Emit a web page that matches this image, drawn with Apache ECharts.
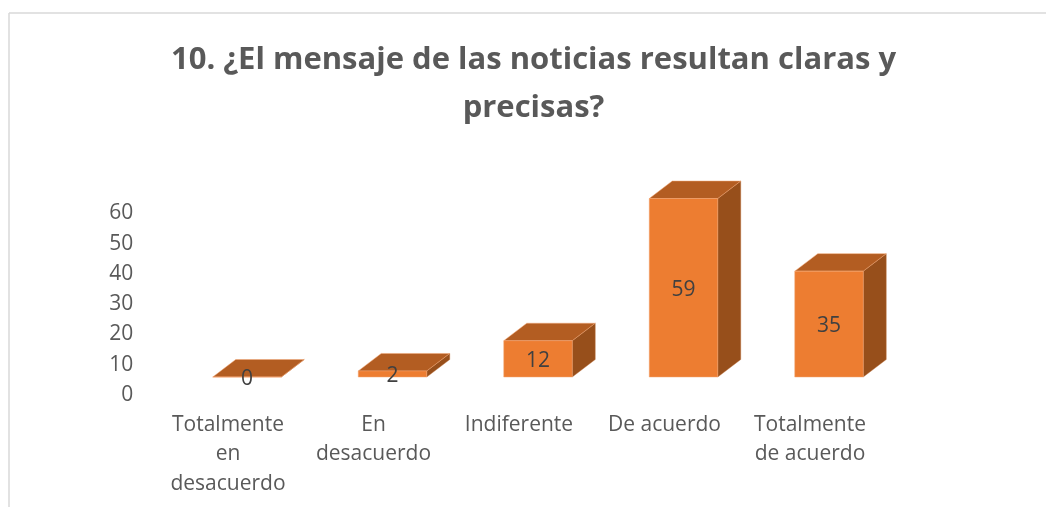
<!DOCTYPE html>
<html><head><meta charset="utf-8">
<style>html,body{margin:0;padding:0;background:#fff}#c{width:1046px;height:507px}</style>
<script src="https://cdn.jsdelivr.net/npm/echarts@6/dist/echarts.min.js"></script>
</head><body><div id="c"></div>
<script>
const categories = ['Totalmente\nen\ndesacuerdo','En\ndesacuerdo','Indiferente','De acuerdo','Totalmente\nde acuerdo'];
const values = [0,2,12,59,35];
const titleText = '10. ¿El mensaje de las noticias resultan claras y\nprecisas?';
const FONT='Open Sans';
const chart = echarts.init(document.getElementById('c'),null,{renderer:'canvas'});
const DX=23, DY=-17.5, W=68.5;
function renderItem(params,api){
  const i=api.value(0), v=api.value(1);
  const b=api.coord([i,0]), t=api.coord([i,v]);
  const x0=b[0]-W/2, x1=b[0]+W/2, y0=b[1], y1=t[1];
  const edge={stroke:'#F2A674',lineWidth:0.5};
  return {type:'group',children:[
    {type:'polygon',shape:{points:[[x1,y1],[x1+DX,y1+DY],[x1+DX,y0+DY],[x1,y0]]},style:{fill:'#974F1B',stroke:'#C0703A',lineWidth:0.4}},
    {type:'polygon',shape:{points:[[x0,y1],[x0+DX,y1+DY],[x1+DX,y1+DY],[x1,y1]]},style:{fill:'#B35D22',...edge}},
    {type:'rect',shape:{x:x0,y:y1,width:W,height:y0-y1},style:{fill:'#ED7D31',...edge}},
    {type:'text',x:b[0],y:(y0+y1)/2+2,style:{text:String(v),fill:'#404040',font:'21px "Open Sans"',align:'center',verticalAlign:'middle'}}
  ]};
}
chart.setOption({
  animation:false,
  title:{text:titleText,left:528.5,top:31,textAlign:'center',textStyle:{fontFamily:FONT,fontWeight:'bold',fontSize:31,color:'#595959',lineHeight:48}},
  graphic:[
    {type:'line',shape:{x1:9,y1:13,x2:1046,y2:13},style:{stroke:'#D9D9D9',lineWidth:1.5},silent:true},
    {type:'line',shape:{x1:9,y1:13,x2:9,y2:507},style:{stroke:'#D9D9D9',lineWidth:1.5},silent:true}
  ],
  grid:[
    {left:174.25,width:727.5,top:195.5,height:181.5},
    {left:174.25,width:727.5,top:213.5,height:181.5}
  ],
  xAxis:[
    {type:'category',gridIndex:0,data:categories,axisLine:{show:false},axisTick:{show:false},
      axisLabel:{interval:0,color:'#595959',fontFamily:FONT,fontSize:21,lineHeight:29.5,margin:33,padding:[0,38,0,0]}},
    {type:'category',gridIndex:1,data:categories,show:false}
  ],
  yAxis:[
    {type:'value',gridIndex:0,min:0,max:60,interval:10,show:false},
    {type:'value',gridIndex:1,min:0,max:60,interval:10,splitLine:{show:false},axisLine:{show:false},axisTick:{show:false},
      axisLabel:{color:'#595959',fontFamily:FONT,fontSize:21,margin:41,showMinLabel:true,showMaxLabel:true}}
  ],
  series:[{type:'custom',xAxisIndex:0,yAxisIndex:0,renderItem,encode:{x:0,y:1},data:values.map((v,i)=>[i,v]),clip:false}]
});
</script></body></html>
